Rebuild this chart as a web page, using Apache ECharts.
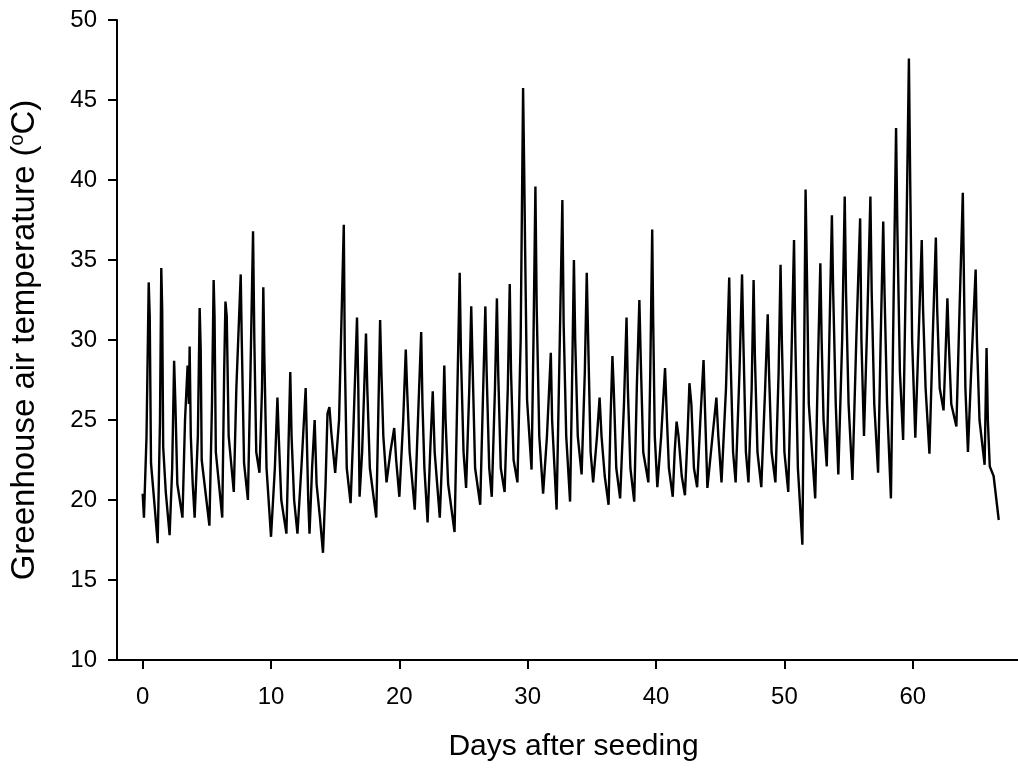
<!DOCTYPE html>
<html><head><meta charset="utf-8">
<script src="https://cdn.jsdelivr.net/npm/echarts@6/dist/echarts.min.js"></script>
<style>html,body{margin:0;padding:0;background:#fff}#c{width:1018px;height:770px}</style>
</head><body><div id="c"></div>
<script>
// Turning points of the hourly greenhouse air temperature record (day, °C)
const days = [
0.0,0.1,0.3,0.47,0.55,0.65,0.85,1.17,1.35,1.45,1.52,1.6,1.8,2.1,2.3,2.45,2.55,2.7,3.1,3.3,3.5,3.6,3.66,3.75,3.9,4.05,4.3,4.44,4.52,4.6,5.2,5.4,5.53,5.6,5.7,6.2,6.35,6.45,6.55,6.7,7.1,7.3,7.64,7.72,7.9,
8.2,8.4,8.6,8.7,8.85,9.1,9.3,9.4,9.48,9.65,10.0,10.3,10.5,10.6,10.8,11.2,11.35,11.5,11.6,11.8,12.06,12.4,12.7,12.8,12.9,13.0,13.2,13.4,13.55,13.8,14.05,14.25,14.4,14.55,14.7,15.0,15.3,15.67,15.75,15.9,
16.2,16.4,16.7,16.8,16.9,17.1,17.4,17.5,17.7,18.2,18.35,18.5,18.6,18.75,19.0,19.3,19.6,19.75,20.0,20.3,20.5,20.6,20.8,21.2,21.45,21.7,21.8,21.95,22.2,22.4,22.6,22.75,23.15,23.35,23.5,23.6,23.8,
24.3,24.5,24.7,24.8,25.0,25.2,25.45,25.6,25.7,25.9,26.3,26.5,26.7,26.8,27.0,27.2,27.45,27.6,27.7,27.9,28.2,28.45,28.6,28.7,28.9,29.2,29.45,29.64,29.72,29.8,29.95,30.3,30.45,30.6,30.7,30.9,
31.2,31.5,31.8,31.9,32.25,32.5,32.7,32.8,33.0,33.3,33.45,33.6,33.7,33.9,34.2,34.45,34.6,34.7,34.9,35.1,35.4,35.6,35.75,36.0,36.3,36.45,36.6,36.7,36.9,37.2,37.5,37.7,37.8,38.0,38.3,38.5,38.7,38.8,39.0,
39.4,39.55,39.7,39.78,39.9,40.1,40.4,40.7,40.85,41.0,41.3,41.45,41.6,41.75,42.0,42.25,42.45,42.6,42.75,42.95,43.2,43.45,43.7,43.8,44.0,44.4,44.7,44.85,45.1,45.45,45.7,45.8,46.0,46.2,46.5,46.7,46.8,47.0,
47.2,47.45,47.6,47.7,47.9,48.2,48.5,48.7,48.8,49.0,49.3,49.55,49.7,49.8,50.0,50.3,50.55,50.75,50.85,51.05,51.4,51.55,51.65,51.75,51.9,52.4,52.6,52.8,52.9,53.05,53.3,53.5,53.7,53.8,54.0,54.2,54.5,54.7,54.8,55.0,
55.3,55.6,55.9,56.0,56.2,56.45,56.7,56.8,57.0,57.3,57.5,57.7,57.8,58.0,58.3,58.5,58.7,58.8,59.0,59.25,59.5,59.7,59.8,59.95,60.2,60.45,60.7,60.8,61.0,61.3,61.55,61.8,61.9,62.1,62.4,62.55,62.7,62.8,63.0,
63.4,63.65,63.9,64.0,64.1,64.3,64.6,64.9,65.0,65.2,65.6,65.75,65.85,66.0,66.3,66.7
];
const temps = [
20.4,18.9,24,33.6,31.5,22.3,20.4,17.3,25,34.5,32,23.3,20.5,17.8,22,28.7,26,21,18.9,25,28.4,26,29.6,24,21,18.9,24,32.0,29.5,22.5,18.4,26,33.75,31.5,23,18.9,28,32.4,31.5,24,20.5,27,34.1,30,22.3,
20.0,28,36.8,30,23,21.7,27,33.3,29,22,17.7,22,26.4,24,20,17.9,23,28.0,24,20,17.9,22.5,27.0,23.5,20,17.9,22,25.0,21,19,16.7,21,25.4,25.8,24.2,21.7,25,37.2,29,22,
19.8,24,31.4,27,20.2,23,30.4,27,22,18.9,25,31.25,28,24,21.1,23,24.5,22.5,20.2,25,29.4,27,23,19.4,25,30.5,26,22,18.6,23,26.8,23,18.9,23,28.4,25,21,
18.0,26,34.2,29,23,20.75,27,32.1,28.6,22,19.7,26,32.1,28,22,20.2,27,32.6,28,22,20.5,27,33.5,28,22.5,21.1,30,45.75,41,35.6,26.25,21.9,30,39.6,32,24,
20.4,24,29.2,25,19.4,30,38.75,31,24,19.9,27,35.0,30,24,21.6,28,34.2,30.4,23,21.1,24,26.4,24,21.5,19.7,25,29.0,27,22,20.1,26,31.4,27,22,19.9,27,32.5,29,23,
21.1,28,36.9,31,24,20.8,24,28.25,25,22,20.2,23,24.9,24,21.5,20.3,24,27.3,26,22,20.8,25,28.75,26,20.75,24,26.4,24,21.1,27,33.9,29,23,21.1,28,34.1,30,23,
21.1,27,33.75,29,23,20.8,27,31.6,28,23,21.1,28,34.7,30,23,20.5,29,36.25,30,22,17.2,30,39.4,34.4,26,20.1,28,34.8,30,25,22.1,30,37.8,33,26,21.6,30,38.96,33,26,
21.25,30,37.6,30,24.0,31,38.96,33,26,21.7,30,37.4,33,26,20.1,32,43.25,37,28,23.75,36,47.6,40,30,23.9,30,36.25,32,27,22.9,30,36.4,32,27,25.6,29,32.6,30,26,
24.6,32,39.2,33,27,23.0,29,34.4,30,25,22.2,29.5,25,22.1,21.5,18.75
];
const xTickValues = [0, 10, 20, 30, 40, 50, 60];
const xAxisTitle = 'Days after seeding';
const yAxisTitle = '{n|Greenhouse air temperature (}{s|o}{n|C)}';

const data = days.map((d, i) => [d, temps[i]]);
const font = 'Liberation Sans, Arial, sans-serif';
const chart = echarts.init(document.getElementById('c'), null, {renderer: 'canvas'});
chart.setOption({
  animation: false,
  backgroundColor: '#fff',
  grid: {left: 117, right: 0, top: 20, bottom: 110, containLabel: false, outerBoundsMode: 'none'},
  xAxis: {
    type: 'value', min: -2, max: 68.2,
    axisLine: {show: true, onZero: false, lineStyle: {color: '#000', width: 2}},
    axisTick: {show: true, customValues: xTickValues, length: 9, lineStyle: {color: '#000', width: 2}},
    axisLabel: {customValues: xTickValues, fontSize: 24, color: '#000', fontFamily: font, margin: 25},
    splitLine: {show: false},
    name: xAxisTitle, nameLocation: 'middle', nameGap: 72,
    nameTextStyle: {fontSize: 30, color: '#000', fontFamily: font, padding: [0, 0, 0, 12]}
  },
  yAxis: {
    type: 'value', min: 10, max: 50, interval: 5,
    axisLine: {show: true, onZero: false, lineStyle: {color: '#000', width: 2}},
    axisTick: {show: true, length: 9, lineStyle: {color: '#000', width: 2}},
    axisLabel: {fontSize: 24, color: '#000', fontFamily: font, margin: 20},
    splitLine: {show: false},
    name: yAxisTitle, nameLocation: 'middle', nameGap: 75,
    nameTextStyle: {
      color: '#000', fontFamily: font,
      rich: {
        n: {fontSize: 33, color: '#000', fontFamily: font},
        s: {fontSize: 20, color: '#000', fontFamily: font, padding: [0, 0, 15, 0]}
      }
    }
  },
  series: [{
    type: 'line', data: data, symbol: 'none', showSymbol: false,
    lineStyle: {color: '#000', width: 2.4}, silent: true
  }]
});
</script></body></html>
